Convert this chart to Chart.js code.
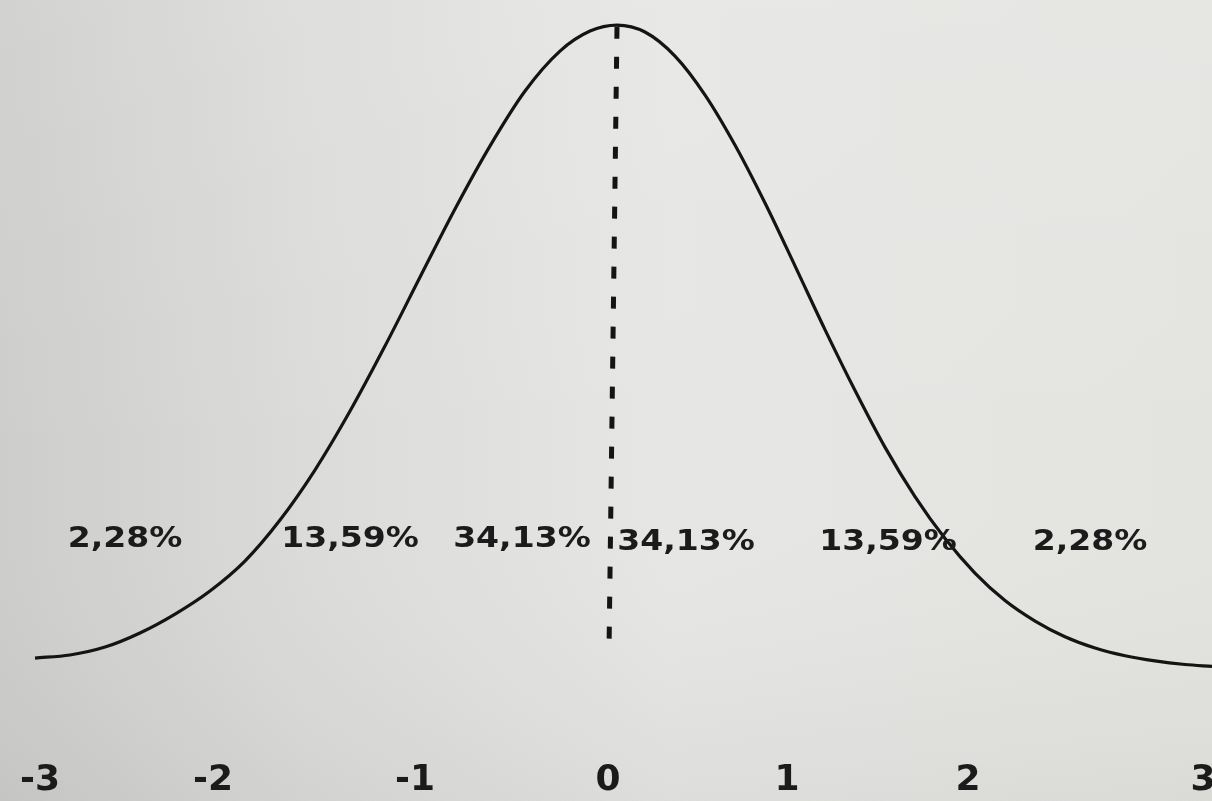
<!DOCTYPE html>
<html>
<head>
<meta charset="utf-8">
<script src="https://cdn.jsdelivr.net/npm/chart.js@4/dist/chart.umd.min.js"></script>
<style>
  html, body { margin: 0; padding: 0; background: #dedede; }
  #wrap { width: 1212px; height: 801px; position: relative; }
  canvas { display: block; }
</style>
</head>
<body>
<div id="wrap"><canvas id="c" width="1212" height="801"></canvas></div>
<script>
// Curve (smoothed readings): z position and relative density height
const curveX = [-3.000, -2.820, -2.639, -2.459, -2.278, -2.098, -1.918, -1.737, -1.557, -1.376,
                -1.196, -1.015, -0.835, -0.655, -0.474, -0.294, -0.139, 0.000,
                 0.144, 0.299, 0.454, 0.608, 0.763, 0.918, 1.072, 1.227, 1.381, 1.536,
                 1.691, 1.845, 2.000, 2.155, 2.309, 2.464, 2.619, 2.773, 2.928, 3.067];
const curveY = [0.0074, 0.0093, 0.0142, 0.0229, 0.0346, 0.0489, 0.0674, 0.0928, 0.1237, 0.1602,
                0.2004, 0.2431, 0.2852, 0.3241, 0.3582, 0.3829, 0.3953, 0.3990,
                0.3947, 0.3798, 0.3557, 0.3248, 0.2889, 0.2499, 0.2106, 0.1729, 0.1379, 0.1073,
                0.0813, 0.0600, 0.0430, 0.0303, 0.0206, 0.0136, 0.0088, 0.0056, 0.0034, 0.0022];

// Dashed mean line (top at the peak, bottom end)
const meanX = [0.000, -0.041];
const meanY = [0.398, 0.0136];

// Axis tick labels and where they sit along the axis
const tickLabels = ['-3', '-2', '-1', '0', '1', '2', '3'];
const tickAt = [-2.974, -2.082, -1.041, -0.046, 0.876, 1.809, 3.021];

// Area percentages and their anchor points
const pctLabels = ['2,28%', '13,59%', '34,13%', '34,13%', '13,59%', '2,28%'];
const pctAt = [-2.536, -1.376, -0.490, 0.356, 1.397, 2.438];
const pctLevel = [0.0804, 0.0804, 0.0804, 0.0786, 0.0786, 0.0786];

const bgPlugin = {
  id: 'bg',
  beforeDraw(chart) {
    const { ctx, width, height } = chart;
    ctx.save();
    const g = ctx.createLinearGradient(0, 0, width, 0);
    g.addColorStop(0, '#cdcecb');
    g.addColorStop(0.25, '#dbdbd9');
    g.addColorStop(0.55, '#e6e6e4');
    g.addColorStop(1, '#e3e3e0');
    ctx.fillStyle = g;
    ctx.fillRect(0, 0, width, height);
    const v = ctx.createLinearGradient(0, 0, 0, height);
    v.addColorStop(0, 'rgba(255,255,255,0.10)');
    v.addColorStop(0.6, 'rgba(255,255,255,0)');
    v.addColorStop(1, 'rgba(0,0,0,0.04)');
    ctx.fillStyle = v;
    ctx.fillRect(0, 0, width, height);
    ctx.restore();
  }
};

const pctPlugin = {
  id: 'pct',
  afterDatasetsDraw(chart) {
    const { ctx } = chart;
    const xs = chart.scales.x, ys = chart.scales.y;
    ctx.save();
    ctx.font = 'bold 28px "DejaVu Sans", Verdana, sans-serif';
    ctx.fillStyle = '#1b1b1b';
    ctx.textAlign = 'center';
    ctx.textBaseline = 'middle';
    pctLabels.forEach((t, i) => {
      const px = xs.getPixelForValue(pctAt[i]);
      const py = ys.getPixelForValue(pctLevel[i]);
      ctx.save();
      ctx.translate(px, py);
      ctx.scale(1.18, 1);
      ctx.fillText(t, 0, 0);
      ctx.restore();
    });
    ctx.restore();
  }
};

new Chart(document.getElementById('c'), {
  type: 'line',
  data: {
    datasets: [
      {
        data: curveX.map((x, i) => ({ x, y: curveY[i] })),
        borderColor: '#141414',
        borderWidth: 3.2,
        pointRadius: 0,
        fill: false,
        cubicInterpolationMode: 'monotone'
      },
      {
        data: meanX.map((x, i) => ({ x, y: meanY[i] })),
        borderColor: '#141414',
        borderWidth: 5,
        borderDash: [12, 18],
        pointRadius: 0,
        fill: false
      }
    ]
  },
  options: {
    responsive: false,
    animation: false,
    layout: { padding: 0 },
    plugins: { legend: { display: false }, tooltip: { enabled: false } },
    scales: {
      x: {
        type: 'linear',
        min: -3.1804,
        max: 3.067,
        grid: { display: false, drawTicks: false },
        border: { display: false },
        afterBuildTicks(scale) {
          scale.ticks = tickAt.map(v => ({ value: v }));
        },
        afterFit(scale) {
          scale.paddingLeft = 0;
          scale.paddingRight = 0;
          scale.height = 131;
        },
        ticks: {
          autoSkip: false,
          maxRotation: 0,
          padding: 89,
          color: '#1b1b1b',
          font: { family: '"DejaVu Sans", Verdana, sans-serif', size: 36, weight: 'bold', lineHeight: 1.2 },
          callback: (v, i) => tickLabels[i]
        }
      },
      y: {
        display: false,
        min: 0,
        max: 0.4145
      }
    }
  },
  plugins: [bgPlugin, pctPlugin]
});
</script>
</body>
</html>
